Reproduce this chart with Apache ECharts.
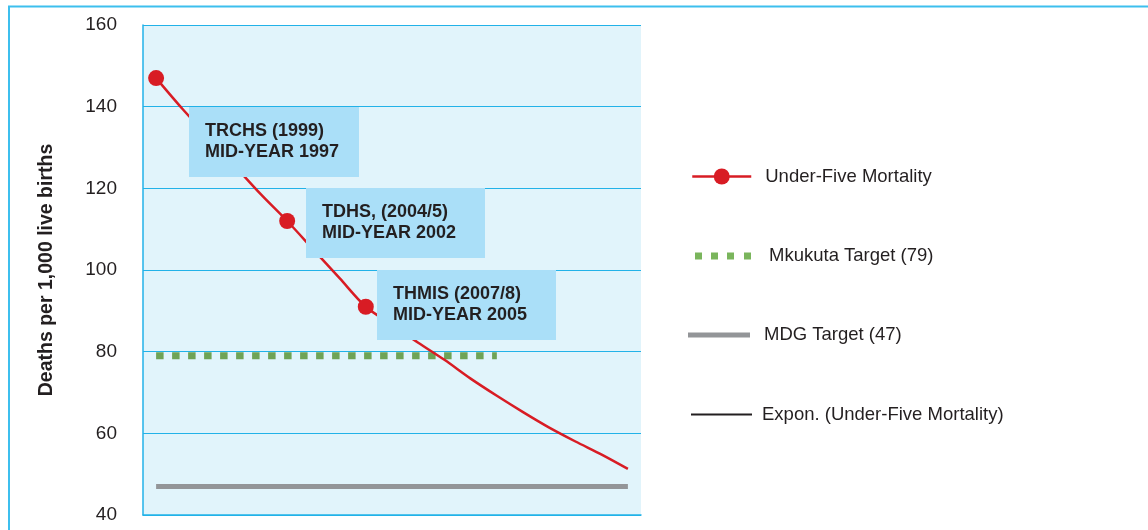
<!DOCTYPE html>
<html><head><meta charset="utf-8">
<script src="https://cdn.jsdelivr.net/npm/echarts@6/dist/echarts.min.js"></script>
<style>html,body{margin:0;padding:0;background:#fff}#c{width:1148px;height:530px}</style>
</head><body><div id="c"></div>
<script>
// ---- data ----
const surveyYears = [1997, 2002, 2005];
const u5mr = [147, 112, 91];
const trendYears = [1997,1998,1999,2000,2001,2002,2003,2004,2005,2006,2007,2008,2009,2010,2011,2012,2013,2014,2015];
const trendValues = [147,139.5,132.5,125.5,118.5,112,105,98,91,86.6,82.2,78,73.4,69.2,65.2,61.4,58,54.8,51.3];
const mkukutaYears = [1997, 2010];
const mkukutaValue = 79;
const mdgYears = [1997, 2015];
const mdgValue = 47;
const yTicks = [40, 60, 80, 100, 120, 140, 160];
const notes = [
  {text: 'TRCHS (1999)\nMID-YEAR 1997', year: 1998.26, value: 140, w: 170},
  {text: 'TDHS, (2004/5)\nMID-YEAR 2002', year: 2002.73, value: 120, w: 179},
  {text: 'THMIS (2007/8)\nMID-YEAR 2005', year: 2005.44, value: 100, w: 179}
];
const seriesNames = ['Under-Five Mortality', 'Mkukuta Target (79)', 'MDG Target (47)', 'Expon. (Under-Five Mortality)'];

const FONT = '"Liberation Sans", Arial, Helvetica, sans-serif';
const RED = '#d81c24', CYAN = '#22b2e8', INK = '#231f20';
const chart = echarts.init(document.getElementById('c'));

const pair = (xs, ys) => xs.map((x, i) => [x, Array.isArray(ys) ? ys[i] : ys]);
const legText = pad => ({fontFamily: FONT, fontSize: 18.5, color: INK, padding: [0, 0, 0, pad]});

chart.setOption({
  animation: false,
  backgroundColor: '#fff',
  grid: {left: 143, right: 507, top: 25, bottom: 15, show: true, backgroundColor: '#e1f4fb', borderWidth: 0},
  xAxis: {type: 'value', min: 1996.5, max: 2015.5,
    axisLine: {show: true, lineStyle: {color: CYAN, width: 1.5}},
    axisTick: {show: false}, axisLabel: {show: false}, splitLine: {show: false}},
  yAxis: {type: 'value', min: yTicks[0], max: yTicks[yTicks.length - 1], interval: 20,
    name: 'Deaths per 1,000 live births', nameLocation: 'middle', nameGap: 86,
    nameTextStyle: {fontFamily: FONT, fontWeight: 'bold', fontSize: 19.5, color: INK},
    axisLine: {show: true, lineStyle: {color: CYAN, width: 1.5}},
    axisTick: {show: false},
    axisLabel: {margin: 26, fontFamily: FONT, fontSize: 19, color: INK},
    splitLine: {show: true, lineStyle: {color: CYAN, width: 1}}},
  legend: [
    {orient: 'vertical', left: 691, top: 167, padding: 0, itemWidth: 59, itemHeight: 20, selectedMode: false,
      textStyle: legText(9),
      data: [{name: seriesNames[0], lineStyle: {color: RED, width: 2.5, opacity: 1}}]},
    {orient: 'vertical', left: 695, top: 246.5, padding: 0, itemWidth: 56, itemHeight: 7, selectedMode: false,
      textStyle: legText(13),
      data: [{name: seriesNames[1], icon: 'path://M0,0h7v7h-7z M16,0h7v7h-7z M32,0h7v7h-7z M49,0h7v7h-7z', itemStyle: {color: '#7ab55c'}}]},
    {orient: 'vertical', left: 688, top: 325.5, padding: 0, itemWidth: 62, itemHeight: 5, selectedMode: false,
      textStyle: legText(9),
      data: [{name: seriesNames[2], icon: 'rect', itemStyle: {color: '#939598'}}]},
    {orient: 'vertical', left: 691, top: 405, padding: 0, itemWidth: 61, itemHeight: 2, selectedMode: false,
      textStyle: legText(5),
      data: [{name: seriesNames[3], icon: 'rect', itemStyle: {color: INK}}]}
  ],
  series: [
    {name: seriesNames[3], type: 'line', data: pair(trendYears, trendValues), smooth: 0.3,
      symbol: 'none', lineStyle: {color: RED, width: 2.5}, itemStyle: {color: RED}, z: 3},
    {name: seriesNames[1], type: 'line', data: pair(mkukutaYears, mkukutaValue), symbol: 'none',
      lineStyle: {color: '#6ea356', width: 7, type: [7.5, 8.5], cap: 'butt'}, itemStyle: {color: '#6ea356'}, z: 2},
    {name: seriesNames[2], type: 'line', data: pair(mdgYears, mdgValue), symbol: 'none',
      lineStyle: {color: '#939598', width: 5}, itemStyle: {color: '#939598'}, z: 2},
    {name: seriesNames[0], type: 'line', data: pair(surveyYears, u5mr), symbol: 'circle', symbolSize: 16,
      lineStyle: {color: RED, width: 2, opacity: 0}, itemStyle: {color: RED}, z: 4}
  ]
});

const g = [{type: 'rect', id: 'frame', z: 100, silent: true,
  shape: {x: 9, y: 6.5, width: 1300, height: 700}, style: {fill: 'none', stroke: '#3dbfee', lineWidth: 2}}];
notes.forEach((n, i) => {
  const p = chart.convertToPixel({gridIndex: 0}, [n.year, n.value]);
  g.push({type: 'group', id: 'note' + i, x: Math.round(p[0]), y: Math.round(p[1]), z: 50, children: [
    {type: 'rect', z: 50, shape: {x: 0, y: 0, width: n.w, height: 70}, style: {fill: '#aadff8'}},
    {type: 'text', z: 51, x: 16, y: 14, style: {text: n.text, font: 'bold 18px ' + FONT, fill: INK, lineHeight: 21}}
  ]});
});
chart.setOption({graphic: g});
</script></body></html>
